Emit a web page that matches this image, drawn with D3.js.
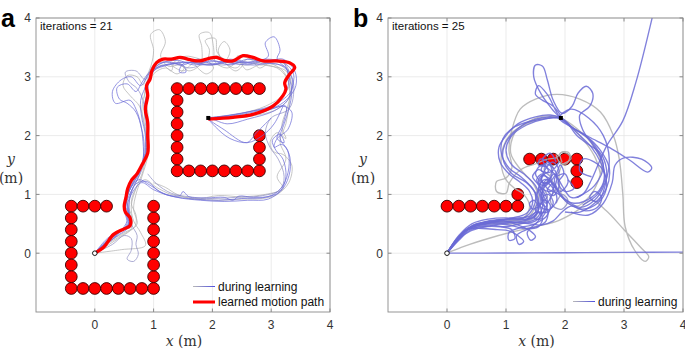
<!DOCTYPE html>
<html>
<head>
<meta charset="utf-8">
<script src="https://cdn.jsdelivr.net/npm/d3@7"></script>
<style>
  body { margin: 0; background: #fff; }
  svg { display: block; font-family: "Liberation Sans", Arial, sans-serif; }
  .tick-label { font-size: 12px; fill: #333; }
  .ax-label { font-family: "DejaVu Serif", "Liberation Serif", serif; font-size: 14px; fill: #333; }
</style>
</head>
<body>
<div id="container"></div>
<script>
// two panels: robot paths during learning around obstacles

const xTicks = [0, 1, 2, 3, 4],
      yTicks = [0, 1, 2, 3, 4];

const startPoint = [0, 0],
      goalPoint = [1.93, 2.3];

// obstacle centres (m), panel a
const obstaclesA = [
    [-0.4, 0.8], [-0.2, 0.8], [0, 0.8], [0.2, 0.8],
    [-0.4, 0.6], [-0.4, 0.4], [-0.4, 0.2], [-0.4, 0], [-0.4, -0.2], [-0.4, -0.4], [-0.4, -0.6],
    [-0.2, -0.6], [0, -0.6], [0.2, -0.6], [0.4, -0.6], [0.6, -0.6], [0.8, -0.6], [1.0, -0.6],
    [1.0, -0.4], [1.0, -0.2], [1.0, 0], [1.0, 0.2], [1.0, 0.4], [1.0, 0.6], [1.0, 0.8],
    [1.4, 2.8], [1.6, 2.8], [1.8, 2.8], [2.0, 2.8], [2.2, 2.8], [2.4, 2.8], [2.6, 2.8], [2.8, 2.8],
    [1.4, 2.6], [1.4, 2.4], [1.4, 2.2], [1.4, 2.0], [1.4, 1.8], [1.4, 1.6],
    [1.4, 1.4], [1.6, 1.4], [1.8, 1.4], [2.0, 1.4], [2.2, 1.4], [2.4, 1.4], [2.6, 1.4], [2.8, 1.4],
    [2.8, 2.0], [2.8, 1.8], [2.8, 1.6]
];

// obstacle centres (m), panel b
const obstaclesB = [
    [0, 0.8], [0.2, 0.8], [0.4, 0.8], [0.6, 0.8], [0.8, 0.8], [1.0, 0.8], [1.2, 0.8], [1.2, 1.0],
    [1.4, 1.6], [1.6, 1.6], [1.8, 1.6], [2.0, 1.6], [2.2, 1.6], [2.2, 1.4], [2.2, 1.2]
];

// learning trials, panel a (earliest first)
const trialsA = [
    [[0,0],[0.45,0.06],[0.86,0.13],[0.78,0.35],[0.66,0.55],[0.62,0.8],[0.7,1.1],[0.82,1.4],[0.88,1.8],[0.84,2.2],[0.76,2.5],[0.6,2.68],[0.48,2.85],[0.55,3.02],[0.72,3.0],[0.82,2.86],[0.88,3.0],[0.96,3.2],[1.0,3.45],[0.95,3.72],[1.1,3.8],[1.2,3.6],[1.12,3.35],[1.25,3.18],[1.45,3.2],[1.6,3.1],[1.8,3.22],[1.82,3.5],[1.78,3.72],[1.95,3.75],[2.02,3.5],[2.05,3.25],[2.25,3.15],[2.45,3.25],[2.58,3.12],[2.8,3.2],[3.1,3.15],[3.28,2.95],[3.3,2.65],[3.1,2.45],[2.65,2.33],[2.25,2.3],[1.93,2.3]],
    [[0,0],[0.25,0.2],[0.5,0.35],[0.68,0.45],[0.7,0.65],[0.62,0.85],[0.7,1.1],[0.85,1.25],[1.05,1.12],[1.3,1.0],[1.7,0.93],[2.1,0.9],[2.5,0.92],[2.85,0.93],[3.1,1.0],[3.3,1.2],[3.35,1.5],[3.2,1.68],[3.05,1.72],[2.98,1.88],[3.1,2.05],[3.25,1.95],[3.18,2.15],[3.28,2.5],[3.35,2.85],[3.25,3.1],[2.9,3.2],[2.6,3.3],[2.4,3.15],[2.2,3.25],[2.1,3.45],[2.2,3.6],[2.3,3.45],[2.2,3.25],[1.95,3.2],[1.7,3.25],[1.5,3.1],[1.3,3.2]],
    [[0,0],[0.2,0.15],[0.45,0.3],[0.62,0.42],[0.62,0.65],[0.55,0.85],[0.6,1.1],[0.75,1.35],[0.85,1.7],[0.86,2.05],[0.8,2.45],[0.88,2.8],[1.0,3.05],[1.2,3.15],[1.4,3.05],[1.52,3.15],[1.42,3.26],[1.62,3.3],[1.75,3.15],[1.9,3.05],[2.02,3.15],[1.92,3.3],[2.12,3.35],[2.25,3.2],[2.4,3.1],[2.52,3.22],[2.42,3.35],[2.65,3.3],[2.8,3.15],[3.0,3.25],[3.25,3.2],[3.32,2.9],[3.22,2.7],[2.9,2.5],[2.5,2.38],[2.1,2.32],[1.93,2.3]],
    [[0,0],[0.2,0.12],[0.4,0.25],[0.6,0.38],[0.72,0.5],[0.66,0.75],[0.7,1.0],[0.8,1.3],[0.9,1.65],[0.92,2.0],[0.9,2.4],[0.85,2.75],[0.95,3.05],[1.15,3.2],[1.3,3.1],[1.35,3.25],[1.55,3.35],[1.9,3.3],[1.95,3.45],[1.88,3.62],[2.05,3.65],[2.08,3.42],[2.2,3.3],[2.55,3.2],[2.9,3.25],[3.2,3.1],[3.32,2.8],[3.3,2.5],[3.25,2.2],[3.15,1.9],[3.25,1.6],[3.1,1.3],[3.2,1.1],[2.9,1.0],[2.5,0.96],[2.1,0.98],[1.7,0.92],[1.4,1.0],[1.2,1.12],[1.0,1.2]],
    [[0,0],[0.3,0.15],[0.5,0.3],[0.62,0.25],[0.62,0.05],[0.55,-0.1],[0.66,-0.14],[0.74,-0.02],[0.7,0.15],[0.72,0.3],[0.62,0.5],[0.58,0.8],[0.62,1.05],[0.75,1.3],[0.86,1.6],[0.88,2.0],[0.85,2.3],[0.82,2.6],[0.72,2.8],[0.58,2.92],[0.52,3.08],[0.7,3.1],[0.86,2.95],[1.0,3.2],[1.3,3.25],[1.6,3.15],[1.9,3.22],[2.2,3.2],[2.5,3.25],[2.8,3.22],[3.15,3.2],[3.35,3.0],[3.38,2.7],[3.3,2.45],[3.0,2.3],[2.9,2.05],[2.98,1.8],[3.12,1.6],[3.22,1.3],[3.15,1.08],[2.8,0.97],[2.4,0.95],[2.0,0.93],[1.6,0.96],[1.3,1.02],[1.05,1.18],[0.9,1.35]],
    [[0,0],[0.2,0.2],[0.4,0.35],[0.55,0.5],[0.5,0.75],[0.58,1.05],[0.72,1.3],[0.84,1.6],[0.86,2.0],[0.8,2.3],[0.78,2.6],[0.9,2.9],[1.05,3.15],[1.3,3.22],[1.5,3.2],[1.55,3.08],[1.44,3.08],[1.5,3.22],[1.8,3.24],[2.1,3.26],[2.4,3.22],[2.7,3.2],[3.0,3.23],[3.25,3.15],[3.3,2.95],[3.25,2.75],[3.0,2.5],[2.6,2.38],[2.2,2.32],[1.93,2.3]],
    [[0,0],[0.25,0.25],[0.45,0.38],[0.6,0.55],[0.55,0.8],[0.65,1.05],[0.8,1.2],[1.0,1.08],[1.3,0.97],[1.7,0.92],[2.1,0.9],[2.5,0.93],[2.9,0.95],[3.15,1.05],[3.25,1.3],[3.2,1.6],[3.08,1.75],[3.02,1.92],[3.15,2.02],[3.22,1.88],[3.1,1.95],[3.2,2.2],[3.25,2.5],[3.0,2.45],[2.6,2.35],[2.2,2.3],[1.93,2.3],[2.2,2.1],[2.58,1.88],[2.75,2.05],[3.0,2.3]],
    [[0,0],[0.3,0.3],[0.5,0.42],[0.58,0.5],[0.52,0.72],[0.55,1.0],[0.65,1.2],[0.78,1.45],[0.84,1.8],[0.8,2.1],[0.7,2.4],[0.55,2.55],[0.42,2.62],[0.38,2.82],[0.55,2.88],[0.7,2.75],[0.8,2.9],[0.95,3.1],[1.2,3.2],[1.5,3.25],[1.9,3.2],[2.3,3.25],[2.7,3.25],[2.95,3.35],[2.9,3.58],[3.05,3.68],[3.15,3.45],[3.1,3.3],[3.3,3.1],[3.36,2.8],[3.1,2.55],[2.6,2.4],[2.2,2.33],[1.93,2.3]],
    [[0,0],[0.28,0.22],[0.48,0.4],[0.62,0.52],[0.58,0.72],[0.6,0.95],[0.7,1.18],[0.88,1.22],[1.1,1.05],[1.4,0.95],[1.8,0.9],[2.2,0.88],[2.6,0.9],[2.95,0.92],[3.2,1.1],[3.32,1.4],[3.3,1.7],[3.18,1.85],[3.05,1.8],[3.1,1.95],[3.28,2.1],[3.35,2.4],[3.2,2.5],[2.8,2.38],[2.4,2.32],[1.93,2.3]],
    [[0,0],[0.18,0.22],[0.35,0.35],[0.55,0.45],[0.58,0.65],[0.54,0.9],[0.62,1.12],[0.75,1.25],[0.95,1.15],[1.2,1.0],[1.45,0.98],[1.5,1.05],[1.6,0.96],[1.9,0.94],[2.2,0.95],[2.35,0.9],[2.45,0.97],[2.7,0.95],[3.0,0.98],[3.2,1.15],[3.3,1.45],[3.28,1.75],[3.15,1.95],[3.22,2.2],[3.3,2.45],[3.35,2.75],[3.3,3.0],[3.2,3.25],[2.95,3.28],[2.6,3.22],[2.3,3.28],[2.0,3.2],[1.6,3.25],[1.25,3.2],[1.0,3.1],[0.85,2.8]],
    [[0,0],[0.2,0.18],[0.42,0.36],[0.55,0.55],[0.52,0.78],[0.6,1.02],[0.72,1.25],[0.82,1.55],[0.82,1.9],[0.78,2.2],[0.7,2.45],[0.6,2.6],[0.35,2.55],[0.3,2.75],[0.45,2.95],[0.62,3.0],[0.78,2.85],[0.92,3.05],[1.1,3.22],[1.4,3.28],[1.7,3.2],[2.0,3.28],[2.3,3.2],[2.6,3.3],[2.9,3.25],[3.2,3.3],[3.4,3.1],[3.42,2.85],[3.3,2.65],[3.1,2.5],[2.7,2.42],[2.3,2.35],[1.93,2.3]],
    [[0,0],[0.22,0.18],[0.42,0.32],[0.58,0.45],[0.56,0.7],[0.5,0.85],[0.56,1.05],[0.68,1.28],[0.8,1.5],[0.9,1.9],[0.88,2.25],[0.84,2.5],[0.9,2.75],[0.92,2.95],[1.02,3.15],[1.2,3.25],[1.5,3.2],[1.75,3.3],[2.0,3.22],[2.3,3.3],[2.6,3.25],[2.9,3.3],[3.2,3.25],[3.38,3.05],[3.35,2.8],[3.28,2.6],[3.05,2.42],[2.6,2.28],[2.25,2.2],[1.93,2.3],[2.05,2.15],[2.3,1.95],[2.6,1.88],[2.85,2.0],[3.05,2.2],[3.2,2.5]]
];

// learned motion path, panel a
const learnedPath = [[0,0],[0.15,0.1],[0.32,0.32],[0.49,0.41],[0.6,0.47],[0.6,0.6],[0.52,0.7],[0.5,0.8],[0.53,0.95],[0.56,1.1],[0.63,1.25],[0.71,1.34],[0.8,1.5],[0.9,1.7],[0.9,2.0],[0.9,2.22],[0.86,2.45],[0.9,2.68],[0.88,2.85],[0.94,2.96],[0.97,3.1],[1.05,3.24],[1.16,3.3],[1.3,3.3],[1.45,3.33],[1.62,3.29],[1.79,3.27],[1.93,3.31],[2.07,3.33],[2.2,3.28],[2.35,3.27],[2.52,3.36],[2.69,3.33],[2.86,3.27],[3.09,3.27],[3.31,3.24],[3.4,3.16],[3.31,3.04],[3.23,2.9],[3.25,2.79],[3.2,2.68],[3.03,2.5],[2.69,2.36],[2.35,2.31],[1.93,2.28]];

// learning trials, panel b (earliest first)
const trialsB = [
    [[0,0],[0.3,0.12],[0.7,0.25],[1.1,0.36],[1.5,0.45],[1.9,0.56],[2.2,0.72],[2.45,0.9],[2.7,0.72],[3.0,0.4],[3.3,0.08],[3.42,-0.06],[3.36,-0.14],[3.18,0.05],[3.02,0.45],[2.98,1.0],[2.92,1.6],[2.82,2.0],[2.6,2.4],[2.25,2.62],[1.86,2.7],[1.5,2.62],[1.24,2.45],[1.1,2.1],[1.05,1.75],[1.1,1.45],[1.0,1.28],[0.84,1.22],[0.84,1.05],[1.0,1.02],[1.06,1.2],[1.25,1.42],[1.5,1.52],[1.7,1.6],[1.85,1.62],[1.95,1.72],[2.08,1.65],[2.02,1.52],[1.9,1.56],[1.85,1.68]],
    [[0,0],[0.2,0.28],[0.4,0.42],[0.7,0.5],[1.0,0.5],[1.3,0.52],[1.45,0.7],[1.55,0.95],[1.45,1.2],[1.25,1.42],[1.08,1.7],[1.15,2.05],[1.4,2.25],[1.7,2.34],[1.92,2.3],[2.2,2.12],[2.5,1.8],[2.62,1.5],[2.55,1.2],[2.4,0.95],[2.2,0.8],[2.0,0.9],[1.9,1.2],[1.95,1.5],[2.1,1.6],[2.05,1.72],[1.92,1.7],[1.95,1.55]],
    [[0,0],[0.22,0.3],[0.45,0.45],[0.75,0.52],[1.05,0.55],[1.3,0.6],[1.4,0.8],[1.3,1.0],[1.15,1.1],[1.0,1.25],[0.92,1.5],[0.95,1.8],[1.1,2.05],[1.35,2.2],[1.65,2.3],[1.92,2.3],[2.25,2.0],[2.5,1.65],[2.6,1.35]],
    [[0,0],[0.15,0.2],[0.3,0.38],[0.5,0.48],[0.8,0.52],[1.1,0.55],[1.35,0.55],[1.5,0.62],[1.55,0.8],[1.5,1.0],[1.62,1.1],[1.7,0.95],[1.6,0.9],[1.65,1.15],[1.75,1.3],[1.65,1.4],[1.7,1.55],[1.8,1.45],[1.75,1.3],[1.85,1.1],[1.75,0.95],[1.8,0.8],[1.95,0.75],[2.05,0.9],[1.95,1.0],[1.85,0.85]],
    [[0,0],[0.2,0.25],[0.35,0.4],[0.6,0.45],[0.9,0.45],[1.1,0.4],[1.15,0.25],[1.05,0.22],[1.05,0.35],[1.3,0.45],[1.5,0.5],[1.6,0.7],[1.52,0.95],[1.58,1.2],[1.5,1.35],[1.6,1.5],[1.72,1.4],[1.6,1.3],[1.7,1.1],[1.9,1.0],[2.05,0.85],[2.3,0.75],[2.55,0.85],[2.7,1.1],[2.65,1.4],[2.5,1.55],[2.3,1.6],[2.25,1.4],[2.45,1.3]],
    [[0,0],[0.25,0.3],[0.4,0.45],[0.7,0.55],[1.0,0.58],[1.3,0.6],[1.45,0.75],[1.5,1.0],[1.35,1.2],[1.1,1.35],[0.95,1.6],[0.98,1.85],[1.2,2.12],[1.5,2.28],[1.75,2.32],[1.9,2.3],[1.78,2.45],[1.6,2.7],[1.47,3.0],[1.5,3.2],[1.62,3.18],[1.7,2.95],[1.8,2.6],[1.95,2.38],[2.12,2.5],[2.22,2.72],[2.36,2.84],[2.47,2.72],[2.42,2.5],[2.25,2.35],[2.3,2.1],[2.5,1.8],[2.65,1.5],[2.5,1.15],[2.2,0.95]],
    [[0,0],[0.16,0.22],[0.34,0.4],[0.6,0.42],[0.85,0.4],[1.05,0.38],[1.2,0.3],[1.3,0.2],[1.22,0.15],[1.18,0.3],[1.35,0.4],[1.55,0.45],[1.62,0.6],[1.55,0.7],[1.48,0.6],[1.58,0.58],[1.7,0.8],[1.62,1.0],[1.55,1.1],[1.65,1.25],[1.78,1.2],[1.7,1.08],[1.8,0.98],[1.9,1.15],[1.82,1.35],[1.7,1.45],[1.62,1.6],[1.75,1.7],[1.85,1.55]],
    [[0,0],[0.2,0.22],[0.4,0.4],[0.7,0.48],[1.0,0.45],[1.25,0.5],[1.5,0.55],[1.65,0.75],[1.6,1.0],[1.7,1.2],[1.82,1.35],[1.95,1.15],[2.1,0.95],[2.3,1.0],[2.45,1.25],[2.58,1.55],[2.72,1.85],[2.98,2.25],[3.2,2.9],[3.5,4.1]],
    [[0,0],[0.2,0.3],[0.42,0.5],[0.7,0.58],[1.0,0.6],[1.25,0.58],[1.45,0.6],[1.55,0.75],[1.48,0.9],[1.4,0.85],[1.45,0.75],[1.6,0.85],[1.62,1.05],[1.52,1.2],[1.45,1.3],[1.55,1.42],[1.65,1.35],[1.58,1.25],[1.7,1.18],[1.85,1.35],[1.92,1.5],[1.98,1.35],[1.88,1.2],[2.0,1.05],[2.15,1.1],[2.05,1.25]],
    [[0,0],[0.18,0.25],[0.38,0.42],[0.65,0.5],[0.95,0.55],[1.25,0.52],[1.5,0.58],[1.62,0.8],[1.58,1.05],[1.7,1.25],[1.85,1.1],[2.0,0.92],[2.25,0.78],[2.5,0.9],[2.68,1.2],[2.75,1.6],[2.65,2.0],[2.4,2.3],[2.1,2.45],[1.9,2.3],[2.1,2.15],[2.4,1.98],[2.75,1.8],[3.1,1.58],[3.4,1.38],[3.47,1.45],[3.3,1.6],[3.0,1.62],[2.85,1.5],[2.8,1.2],[2.65,0.85],[2.4,0.65],[2.1,0.7]],
    [[0,0],[1.0,0.004],[2.0,0.008],[3.0,0.014],[4.1,0.02]],
    [[0,0],[0.2,0.24],[0.4,0.38],[0.65,0.45],[0.9,0.5],[1.15,0.52],[1.4,0.5],[1.6,0.48],[1.8,0.55],[1.95,0.7],[2.1,0.8],[2.35,0.72],[2.55,0.78],[2.62,0.95],[2.5,1.05],[2.42,0.95],[2.55,0.88],[2.68,1.15],[2.7,1.45],[2.6,1.7],[2.4,1.85],[2.2,2.0],[2.05,2.2],[1.93,2.3]],
    [[0,0],[0.18,0.25],[0.38,0.42],[0.65,0.5],[0.95,0.55],[1.2,0.48],[1.38,0.4],[1.5,0.28],[1.42,0.22],[1.36,0.35],[1.5,0.5],[1.68,0.62],[1.75,0.82],[1.65,0.9],[1.58,0.8],[1.72,0.74],[1.86,0.9],[1.8,1.1],[1.68,1.2],[1.62,1.1],[1.76,1.05],[1.86,1.25],[1.8,1.45],[1.65,1.52],[1.6,1.4],[1.75,1.38],[1.9,1.55]],
    [[0,0],[0.15,0.22],[0.32,0.4],[0.55,0.5],[0.85,0.55],[1.15,0.6],[1.38,0.62],[1.52,0.7],[1.7,0.7],[1.8,0.85],[1.72,1.0],[1.62,0.95],[1.68,0.85],[1.8,1.05],[1.75,1.25],[1.6,1.32],[1.55,1.2],[1.68,1.15],[1.78,1.35],[1.72,1.55],[1.58,1.6],[1.55,1.5],[1.7,1.48]],
    [[0,0],[0.22,0.28],[0.42,0.45],[0.75,0.55],[1.05,0.57],[1.35,0.58],[1.5,0.7],[1.55,0.9],[1.45,1.1],[1.25,1.3],[1.05,1.45],[0.92,1.7],[0.95,1.95],[1.15,2.15],[1.45,2.25],[1.75,2.3],[1.92,2.32],[1.8,2.5],[1.62,2.6],[1.5,2.7],[1.55,2.85],[1.7,2.7],[1.92,2.3],[2.15,2.12],[2.45,1.9],[2.62,1.6],[2.65,1.2],[2.45,0.95],[2.15,0.85],[1.95,0.95],[1.8,1.2]],
    [[0,0],[0.22,0.3],[0.45,0.48],[0.8,0.55],[1.1,0.6],[1.35,0.68],[1.45,0.85],[1.4,1.05],[1.25,1.2],[1.05,1.35],[0.9,1.55],[0.88,1.8],[1.0,2.0],[1.2,2.2],[1.5,2.32],[1.75,2.35],[1.93,2.3],[2.1,2.15],[2.35,2.0],[2.6,1.75],[2.75,1.45],[2.7,1.1],[2.5,0.85],[2.25,0.7],[2.0,0.7]],
    [[0,0],[0.2,0.26],[0.4,0.44],[0.7,0.52],[1.0,0.52],[1.3,0.55],[1.5,0.65],[1.58,0.9],[1.5,1.15],[1.3,1.35],[1.1,1.5],[1.0,1.75],[1.1,2.0],[1.35,2.18],[1.65,2.28],[1.93,2.3],[2.2,2.05],[2.45,1.8],[2.6,1.55],[2.68,1.3],[2.55,1.0],[2.3,0.82]],
    [[0,0],[0.25,0.3],[0.45,0.46],[0.75,0.5],[1.05,0.48],[1.3,0.42],[1.52,0.45],[1.68,0.55],[1.7,0.75],[1.55,0.85],[1.5,0.72],[1.62,0.68],[1.7,0.9],[1.6,1.1],[1.52,1.25],[1.62,1.35],[1.72,1.22],[1.6,1.2],[1.68,1.45],[1.8,1.55],[1.9,1.4],[1.82,1.25],[1.92,1.05],[2.05,1.2],[2.0,1.35],[1.85,1.3]]
];

const width = 685, height = 350;

const svg = d3.select("#container").append("svg")
    .attr("width", width)
    .attr("height", height);

const defs = svg.append("defs");

const legendGrad = defs.append("linearGradient")
    .attr("id", "learnGrad")
    .attr("x1", "0%").attr("x2", "100%");
legendGrad.append("stop").attr("offset", "0%").attr("stop-color", "#b8b8b8");
legendGrad.append("stop").attr("offset", "100%").attr("stop-color", "#4f4fe0");

const yScale = d3.scaleLinear().domain([-1, 4]).range([312, 18]);

function drawPanel(opts){

    const x = d3.scaleLinear().domain([-1, 4]).range([opts.left, opts.right]),
          y = yScale;
    const rPx = x(0.1) - x(0);

    const g = svg.append("g");

    defs.append("clipPath").attr("id", "clip-" + opts.id)
	.append("rect")
	.attr("x", x(-1)).attr("y", y(4))
	.attr("width", x(4) - x(-1)).attr("height", y(-1) - y(4));

    // grid
    g.append("g").selectAll("line")
	.data(xTicks).enter().append("line")
	.attr("x1", d => x(d)).attr("x2", d => x(d))
	.attr("y1", y(-1)).attr("y2", y(4))
	.attr("stroke", "#e6e6e6").attr("stroke-width", 0.8);
    g.append("g").selectAll("line")
	.data(yTicks).enter().append("line")
	.attr("y1", d => y(d)).attr("y2", d => y(d))
	.attr("x1", x(-1)).attr("x2", x(4))
	.attr("stroke", "#e6e6e6").attr("stroke-width", 0.8);

    // obstacles
    g.append("g").selectAll("circle")
	.data(opts.obstacles).enter().append("circle")
	.attr("cx", d => x(d[0])).attr("cy", d => y(d[1]))
	.attr("r", rPx)
	.attr("fill", "#ff0000")
	.attr("stroke", "#3a0000")
	.attr("stroke-width", 0.9);

    const line = d3.line()
	.x(d => x(d[0])).y(d => y(d[1]))
	.curve(d3.curveCatmullRom.alpha(0.5));

    // early trials grey, later ones blue
    const color = d3.scaleLinear()
	.domain([opts.grayUntil - 1, opts.grayUntil + 1])
	.range(["#b0b0b0", "#6b6bd6"])
	.interpolate(d3.interpolateRgb)
	.clamp(true);

    const clipped = g.append("g").attr("clip-path", "url(#clip-" + opts.id + ")");

    clipped.selectAll("path.trial")
	.data(opts.trials).enter().append("path")
	.attr("d", line)
	.attr("fill", "none")
	.attr("stroke", (d, i) => color(i))
	.attr("stroke-width", opts.lineWidth)
	.attr("stroke-opacity", 0.85);

    if (opts.learned){
	clipped.append("path")
	    .datum(opts.learned)
	    .attr("d", line)
	    .attr("fill", "none")
	    .attr("stroke", "#ff0000")
	    .attr("stroke-width", 3.3)
	    .attr("stroke-linejoin", "round");
    }

    // start + goal
    g.append("circle")
	.attr("cx", x(startPoint[0])).attr("cy", y(startPoint[1]))
	.attr("r", 2.3).attr("fill", "#fff")
	.attr("stroke", "#000").attr("stroke-width", 0.9);
    g.append("rect")
	.attr("x", x(goalPoint[0]) - 2).attr("y", y(goalPoint[1]) - 2)
	.attr("width", 4).attr("height", 4)
	.attr("fill", "#000");

    // box + inward ticks
    g.append("rect")
	.attr("x", x(-1)).attr("y", y(4))
	.attr("width", x(4) - x(-1)).attr("height", y(-1) - y(4))
	.attr("fill", "none").attr("stroke", "#8a8a8a").attr("stroke-width", 0.9);

    const tk = 3.5;
    xTicks.forEach(function(t){
	g.append("line").attr("x1", x(t)).attr("x2", x(t))
	    .attr("y1", y(-1)).attr("y2", y(-1) - tk).attr("stroke", "#8a8a8a");
	g.append("line").attr("x1", x(t)).attr("x2", x(t))
	    .attr("y1", y(4)).attr("y2", y(4) + tk).attr("stroke", "#8a8a8a");
    });
    yTicks.forEach(function(t){
	g.append("line").attr("y1", y(t)).attr("y2", y(t))
	    .attr("x1", x(-1)).attr("x2", x(-1) + tk).attr("stroke", "#8a8a8a");
	g.append("line").attr("y1", y(t)).attr("y2", y(t))
	    .attr("x1", x(4)).attr("x2", x(4) - tk).attr("stroke", "#8a8a8a");
    });

    g.append("g").selectAll("text")
	.data(xTicks).enter().append("text")
	.classed("tick-label", true)
	.attr("x", d => x(d)).attr("y", 329)
	.attr("text-anchor", "middle")
	.text(d => d);
    g.append("g").selectAll("text")
	.data(yTicks).enter().append("text")
	.classed("tick-label", true)
	.attr("x", x(-1) - 5).attr("y", d => y(d) + 4.3)
	.attr("text-anchor", "end")
	.text(d => d);

    // axis labels
    const xl = g.append("text").classed("ax-label", true)
	.attr("x", (x(-1) + x(4)) / 2 + 1).attr("y", 346)
	.attr("text-anchor", "middle");
    xl.append("tspan").attr("font-style", "italic").text("x");
    xl.append("tspan").text(" (m)");

    g.append("text").classed("ax-label", true)
	.attr("x", opts.left - 25).attr("y", 164)
	.attr("text-anchor", "middle")
	.attr("font-style", "italic")
	.text("y");
    g.append("text").classed("ax-label", true)
	.attr("x", opts.left - 25).attr("y", 183)
	.attr("text-anchor", "middle")
	.text("(m)");

    // panel letter and iteration count
    g.append("text")
	.attr("x", opts.left - 35).attr("y", 27)
	.attr("font-size", 25).attr("font-weight", "bold")
	.text(opts.letter);
    g.append("text")
	.attr("x", x(-1) + 4).attr("y", 30)
	.attr("font-size", 11.5).attr("fill", "#111")
	.text("iterations = " + opts.iterations);

    // legend
    opts.legend.forEach(function(item, i){
	const ly = opts.legendY + i * 15.5;
	g.append("line")
	    .attr("x1", opts.legendX).attr("x2", opts.legendX + 22)
	    .attr("y1", ly).attr("y2", ly + 0.01)
	    .attr("stroke", item.stroke)
	    .attr("stroke-width", item.width);
	g.append("text")
	    .attr("x", opts.legendX + 25).attr("y", ly + 4.3)
	    .attr("font-size", 12).attr("fill", "#111")
	    .text(item.label);
    });
}

drawPanel({
    id: "a", letter: "a", left: 36, right: 330,
    obstacles: obstaclesA, trials: trialsA, learned: learnedPath,
    lineWidth: 0.85, grayUntil: 4, iterations: 21,
    legendX: 193, legendY: 286.5,
    legend: [
	{label: "during learning", stroke: "url(#learnGrad)", width: 1.2},
	{label: "learned motion path", stroke: "#ff0000", width: 3.2}
    ]
});

drawPanel({
    id: "b", letter: "b", left: 388, right: 683,
    obstacles: obstaclesB, trials: trialsB, learned: null,
    lineWidth: 1.35, grayUntil: 3, iterations: 25,
    legendX: 573, legendY: 301.5,
    legend: [
	{label: "during learning", stroke: "url(#learnGrad)", width: 1.2}
    ]
});
</script>
</body>
</html>
